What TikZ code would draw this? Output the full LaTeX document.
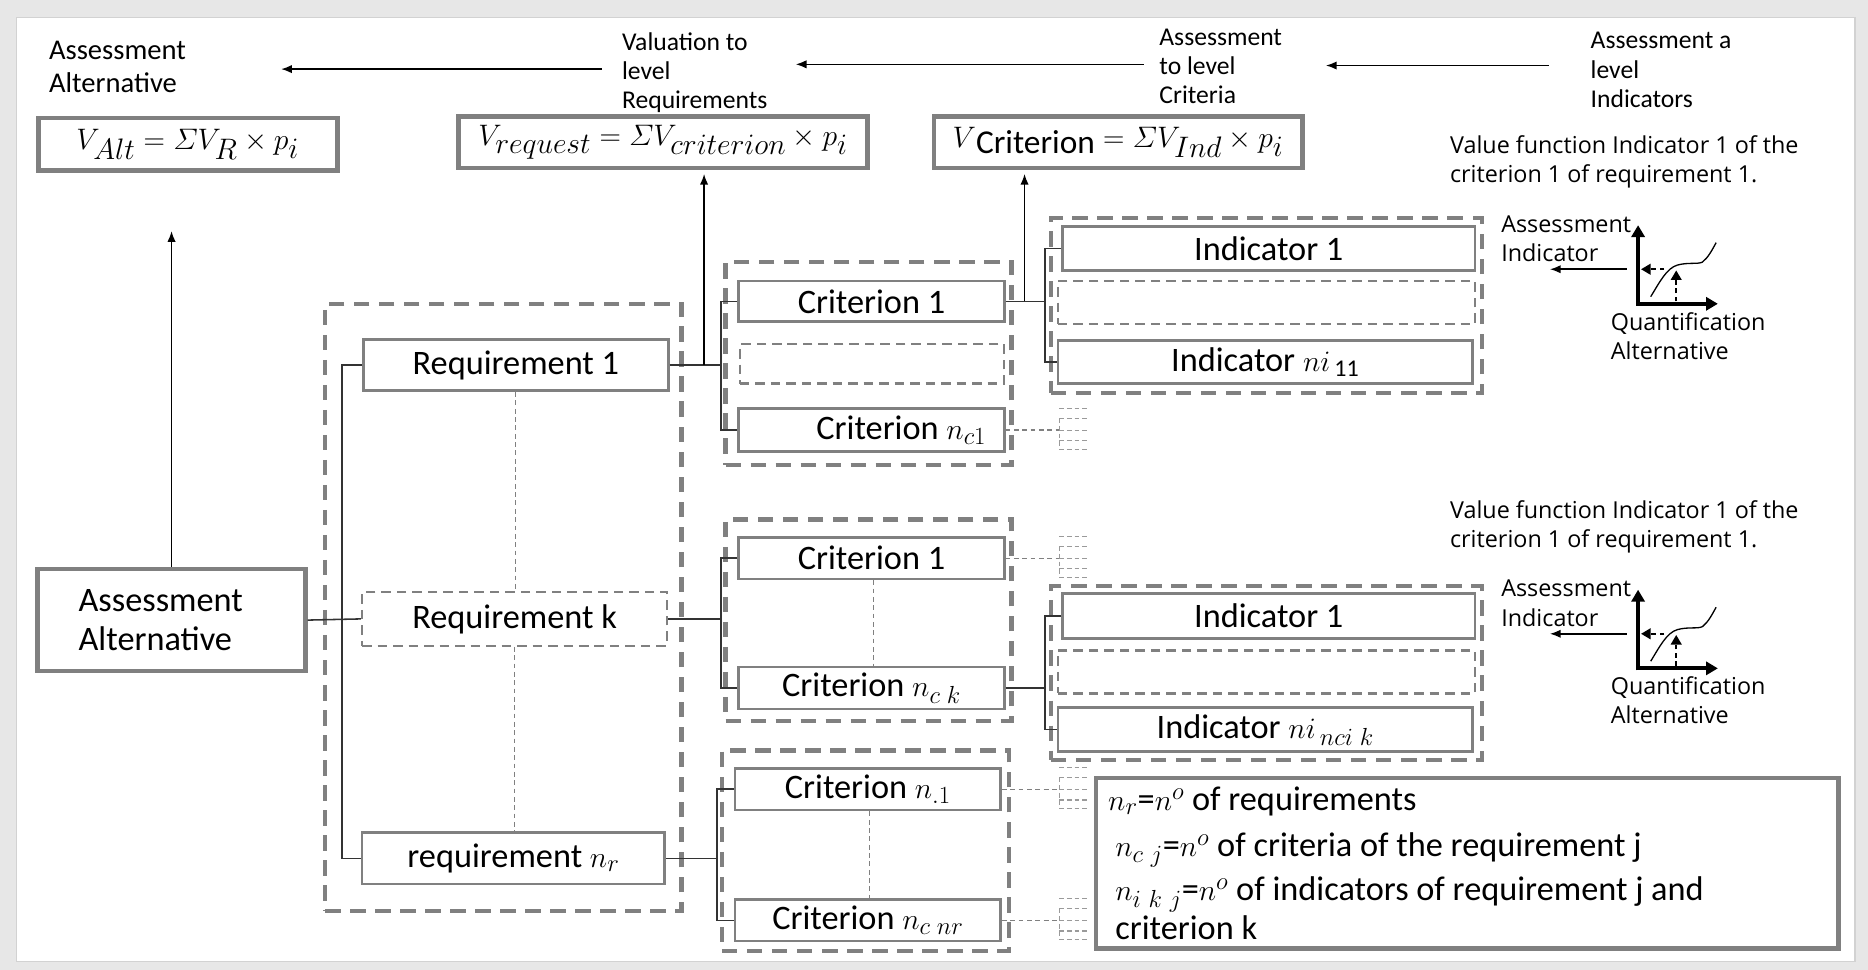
\documentclass[tikz,border=0pt]{standalone}
\usepackage{amsmath}
\usepackage{fontspec}
\setmainfont{Carlito}
\newfontfamily\graphfont{Open Sans}
\usetikzlibrary{arrows.meta,calc}
\definecolor{boxgray}{HTML}{808080}
\definecolor{linegray}{HTML}{333333}
\definecolor{bggray}{HTML}{E7E7E7}
\definecolor{framegray}{HTML}{D2D2D2}
\definecolor{stubgray}{HTML}{9A9A9A}
\newcommand{\lblsize}{\fontsize{28.8}{33}\selectfont}
\newcommand{\topsize}{\fontsize{21.5}{24.5}\selectfont}
\newcommand{\graphsize}{\graphfont\fontsize{19.6}{24.5}\selectfont}
\newcommand{\formsize}{\fontsize{33}{36}\selectfont}
\tikzset{
  solidbox/.style={draw=boxgray, line width=2.2pt, fill=white, inner sep=0pt, font=\lblsize},
  dashbox/.style={draw=boxgray, line width=2pt, dash pattern=on 8pt off 5pt, fill=white, inner sep=0pt, font=\lblsize},
  grpbox/.style={draw=boxgray, line width=3.5pt, dash pattern=on 13pt off 8pt, inner sep=0pt},
  formbox/.style={draw=boxgray, line width=4pt, fill=white, inner sep=0pt, font=\formsize},
  conn/.style={draw=linegray, line width=1.3pt},
  vdash/.style={draw=boxgray, line width=1pt, dash pattern=on 4pt off 3pt},
  arr/.style={draw=black, line width=1.2pt, -{Latex[length=9pt,width=7pt]}},
  toplab/.style={font=\topsize, align=left, anchor=base west, inner sep=0pt},
  graphlab/.style={font=\graphsize, align=left, anchor=base west, inner sep=0pt},
  legendlab/.style={font=\lblsize, anchor=base west, inner sep=0pt},
  stubline/.style={draw=stubgray, line width=0.9pt, dash pattern=on 4pt off 2.5pt},
  stub/.pic={
    \draw[stubline] (0,-18) -- (23,-18);
    \draw[stubline] (0,-10) -- (0,16);
    \foreach \yy in {-10,0,9,16} {\draw[stubline] (0,\yy) -- (23,\yy);}
  },
  vfun/.pic={
    \draw[black, line width=3.5pt, -{Triangle[length=10pt,width=11pt]}] (0,1.7) -- (0,-66);
    \draw[black, line width=3.5pt, -{Triangle[length=10pt,width=11pt]}] (-1.7,0) -- (67,0);
    \draw[black, line width=1.1pt] (10.6,-6) .. controls (18,-18) and (24,-30) .. (33,-32.5) .. controls (42,-35) and (50,-33) .. (54,-35) .. controls (59,-39) and (62,-45) .. (65.5,-51.3);
    \draw[black, line width=1.5pt, dash pattern=on 4pt off 3pt, -{Triangle[length=8pt,width=9pt]}] (32,-2) -- (32,-28);
    \draw[black, line width=1.5pt, dash pattern=on 4pt off 3pt, -{Triangle[length=8pt,width=9pt]}] (22,-29) -- (2.5,-29);
    \draw[arr, line width=1.3pt] (-9.5,-29) -- (-74,-29);
  }
}
\begin{document}
\begin{tikzpicture}[x=1pt,y=-1pt]
\useasboundingbox (0,0) rectangle (1568,814);
\fill[bggray] (0,0) rectangle (1568,814);
\draw[framegray, fill=white, line width=1pt] (14,15) rectangle (1557,807);

% ---------- top level labels (anchor = baseline of last line) ----------
\node[toplab, font=\fontsize{24}{28}\selectfont] (tlAlt) at (41,78) {Assessment\\Alternative};
\node[toplab] (tlReq) at (522,91) {Valuation to\\level\\Requirements};
\node[toplab] (tlCrit) at (973,87) {Assessment\\to level\\Criteria};
\node[toplab] (tlInd) at (1335,90) {Assessment a\\level\\Indicators};
\coordinate (a1s) at (505,58);  \coordinate (a1e) at (236,58);
\coordinate (a2s) at (960,54);  \coordinate (a2e) at (668,54);
\coordinate (a3s) at (1300,55); \coordinate (a3e) at (1113,55);
\draw[arr] (a1s) -- (a1e);
\draw[arr] (a2s) -- (a2e);
\draw[arr] (a3s) -- (a3e);

% ---------- formula boxes ----------
\node[formbox, minimum width=251pt, minimum height=44pt] (fAlt) at (157.5,121) {$V_{Alt} = \varSigma V_R \times p_i$};
\node[formbox, minimum width=343pt, minimum height=43pt] (fReq) at (556.5,119.5) {$V_{request} = \varSigma V_{criterion} \times p_i$};
\node[formbox, minimum width=309pt, minimum height=43pt] (fCrit) at (938.5,119.5) {$V$\raisebox{-5pt}{\fontsize{28}{30}\selectfont Criterion}$\;= \varSigma V_{Ind} \times p_i$};

% ---------- group frames ----------
\node[grpbox, minimum width=299pt, minimum height=510pt] (greq) at (422.5,510) {};
\node[grpbox, minimum width=240pt, minimum height=170pt] (gc1) at (729,305) {};
\node[grpbox, minimum width=240pt, minimum height=169pt] (gc2) at (729,520.5) {};
\node[grpbox, minimum width=241pt, minimum height=168pt] (gc3) at (726.5,714) {};
\node[grpbox, minimum width=362pt, minimum height=147pt] (gi1) at (1063,256.5) {};
\node[grpbox, minimum width=362pt, minimum height=146pt] (gi2) at (1063,565) {};

% ---------- assessment alternative ----------
\node[solidbox, line width=3.5pt, minimum width=225pt, minimum height=86pt, text width=156pt, align=left] (aa) at (144,520.5) {Assessment\\Alternative};

% ---------- requirements ----------
\node[solidbox, minimum width=256pt, minimum height=43pt] (r1) at (433,306.5) {Requirement 1};
\node[dashbox, minimum width=256pt, minimum height=45pt] (rk) at (432,519.5) {Requirement k};
\node[solidbox, minimum width=254pt, minimum height=43pt] (rn) at (431,720.5) {requirement $n_r$};

% ---------- criteria ----------
\node[solidbox, minimum width=223pt, minimum height=34pt] (c11) at (731.5,253) {Criterion 1};
\node[dashbox, minimum width=222pt, minimum height=33pt] (c1e) at (732,305.5) {};
\node[solidbox, minimum width=223pt, minimum height=36pt] (c1n) at (731.5,361) {\hspace*{50pt}Criterion $n_{c1}$};
\node[solidbox, minimum width=223pt, minimum height=35pt] (c21) at (731.5,468.5) {Criterion 1};
\node[solidbox, minimum width=223pt, minimum height=35pt] (c2n) at (731.5,577.5) {Criterion $n_{c\;k}$};
\node[solidbox, minimum width=223pt, minimum height=35pt] (c31) at (728.5,662.5) {Criterion $n_{.1}$};
\node[solidbox, minimum width=223pt, minimum height=35pt] (c3n) at (728.5,772.5) {Criterion $n_{c\;nr}$};

% ---------- indicators ----------
\node[solidbox, minimum width=346pt, minimum height=37pt] (i11) at (1065,208.5) {Indicator 1};
\node[dashbox, minimum width=350pt, minimum height=36pt] (i1e) at (1063,254) {};
\node[solidbox, minimum width=348pt, minimum height=36pt] (i1n) at (1062,304) {Indicator $ni_{\,\mathrm{11}}$};
\node[solidbox, minimum width=346pt, minimum height=38pt] (i21) at (1065,517) {Indicator 1};
\node[dashbox, minimum width=350pt, minimum height=36pt] (i2e) at (1063,564) {};
\node[solidbox, minimum width=348pt, minimum height=37pt] (i2n) at (1062,612.5) {Indicator $ni_{\,nci\;k}$};

% ---------- brackets / connectors ----------
\coordinate (b1) at (287,0);
\coordinate (b2) at (605,0);
\coordinate (b2c) at (602,0);
\coordinate (b3) at (877,0);
\draw[conn] (aa.east) -- (rk.west);
\draw[conn] (r1.west) -- (r1.west -| b1) |- (rn.west);
% requirement 1 -> criteria group 1
\draw[conn] (r1.east) -- (r1.east -| b2);
\draw[conn] (c11.west) -- (c11.west -| b2) |- (c1n.west);
\coordinate (j1) at (591,306.5);
\draw[arr] (j1) -- ([yshift=-3pt]j1 |- fReq.south);
% criterion 1 -> indicator group 1
\draw[conn] (c11.east) -- (c11.east -| b3);
\draw[conn] (i11.west) -- (i11.west -| b3) |- (i1n.west);
\coordinate (j2) at (860,253);
\draw[arr] (j2) -- ([yshift=-3pt]j2 |- fCrit.south);
% requirement k -> criteria group 2
\draw[conn] (rk.east) -- (rk.east -| b2);
\draw[conn] (c21.west) -- (c21.west -| b2) |- (c2n.west);
\draw[conn] (c2n.east) -- (c2n.east -| b3);
\draw[conn] (i21.west) -- (i21.west -| b3) |- (i2n.west);
% requirement n_r -> criteria group 3
\draw[conn] (rn.east) -- (rn.east -| b2c);
\draw[conn] (c31.west) -- (c31.west -| b2c) |- (c3n.west);
% assessment alternative -> up
\coordinate (aaup) at (144,194);
\draw[arr] (aa.north) -- (aaup);

% thin dashed continuations
\draw[vdash] (r1.south) -- (r1.south |- rk.north);
\draw[vdash] (rk.south) -- (rk.south |- rn.north);
\draw[vdash] (c21.south -| 733,0) -- (c2n.north -| 733,0);
\draw[vdash] (c31.south -| 730,0) -- (c3n.north -| 730,0);

% collapsed indicator stubs
\coordinate (s1) at (889,361);
\coordinate (s2) at (889,468.5);
\coordinate (s3) at (889,662.5);
\coordinate (s4) at (889,772.5);
\draw[vdash] (c1n.east) -- (s1);
\draw[vdash] (c21.east) -- (s2);
\draw[vdash] (c31.east) -- (s3);
\draw[vdash] (c3n.east) -- (s4);
\pic at (s1) {stub};
\pic at (s2) {stub};
\pic at (s3) {stub};
\pic at (s4) {stub};

% ---------- value functions ----------
\node[graphlab] (vf1) at (1217,153.5) {Value function Indicator 1 of the\\criterion 1 of requirement 1.};
\node[graphlab] (ai1) at (1260,219.5) {Assessment\\Indicator};
\node[graphlab] (qa1) at (1352,301.5) {Quantification\\Alternative};
\pic at (1375,255) {vfun};
\node[graphlab] (vf2) at (1217,459.5) {Value function Indicator 1 of the\\criterion 1 of requirement 1.};
\node[graphlab] (ai2) at (1260,525.5) {Assessment\\Indicator};
\node[graphlab] (qa2) at (1352,607.5) {Quantification\\Alternative};
\pic at (1375,561) {vfun};

% ---------- legend ----------
\node[formbox, minimum width=623pt, minimum height=143pt] (legend) at (1231.5,724.5) {};
\node[legendlab] (lg1) at (930,680) {$n_r$=$n^o$ of requirements};
\node[legendlab] (lg2) at (936,719) {$n_{c\ j}$=$n^o$ of criteria of the requirement j};
\node[legendlab] (lg3) at (936,756) {$n_{i\ k\ j}$=$n^o$ of indicators of requirement j and};
\node[legendlab] (lg4) at (936,789) {criterion k};
\end{tikzpicture}
\end{document}
